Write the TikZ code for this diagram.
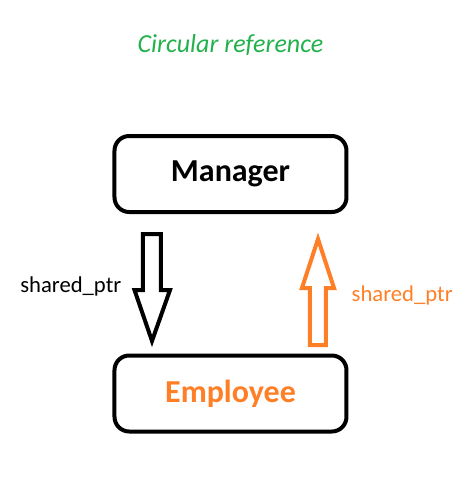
\documentclass[tikz,border=0pt]{standalone}
\usepackage{fontspec}
\setmainfont{Carlito}
\usepackage{xcolor}
\definecolor{paintgreen}{RGB}{34,177,76}
\definecolor{paintorange}{RGB}{255,127,39}

\begin{document}
\begin{tikzpicture}[x=0.75pt,y=-0.75pt,
    box/.style={rectangle,rounded corners=11pt,draw=black,line width=3pt,
                minimum width=174pt,minimum height=57pt,inner sep=0pt},
    blockarrow/.style={line width=3pt,line join=miter}]
\useasboundingbox (0,0) rectangle (475,480);

% title
\node (title) at (230.5,45) {\fontsize{19.5}{22}\selectfont\itshape\color{paintgreen}Circular reference};

% the two objects
\node[box] (mgr) at (230.5,174) {\fontsize{24}{28}\selectfont\bfseries Manager};
\node[box] (emp) at (230.5,393.5) {\fontsize{24}{28}\selectfont\bfseries\color{paintorange}Employee};

% arrow ends
\coordinate (dtop) at (152,234);
\coordinate (dtip) at (152,341);
\coordinate (ubot) at (318,345);
\coordinate (utip) at (318,239);

% Manager -> Employee
\draw[blockarrow,black] (dtop) ++(-9,0) -- ++(18,0) -- ++(0,56) -- ++(9,0)
    -- (dtip) -- ++(-17.5,-51) -- ++(8.5,0) -- cycle;
\node[anchor=east] (lptr) at (126,286) {\fontsize{17}{20}\selectfont shared\_ptr};

% Employee -> Manager
\draw[blockarrow,paintorange] (ubot) ++(-8,0) -- ++(16,0) -- ++(0,-57) -- ++(8,0)
    -- (utip) -- ++(-16,49) -- ++(8,0) -- cycle;
\node[anchor=west,text=paintorange] (rptr) at (347,295) {\fontsize{17}{20}\selectfont shared\_ptr};
\end{tikzpicture}
\end{document}
